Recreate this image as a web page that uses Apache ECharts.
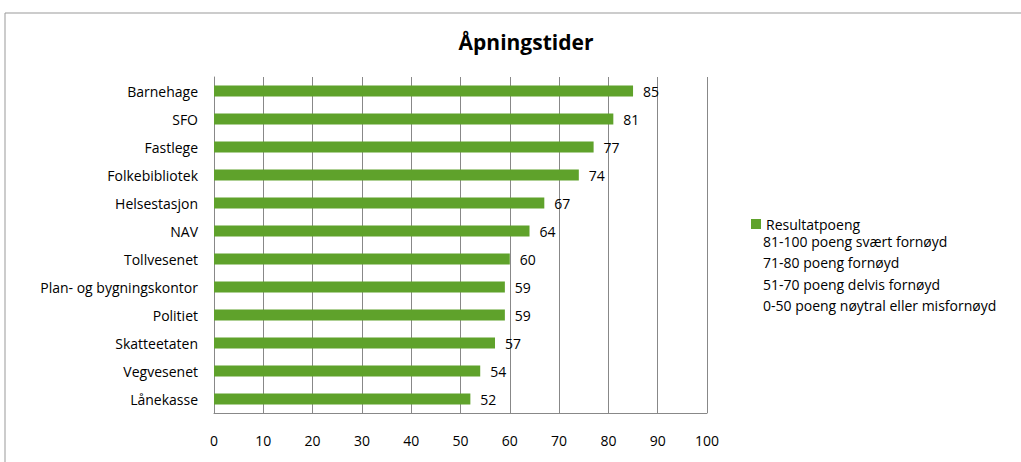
<!DOCTYPE html>
<html>
<head>
<meta charset="utf-8">
<script src="https://cdn.jsdelivr.net/npm/echarts@6/dist/echarts.min.js"></script>
<style>
  html, body {margin: 0; padding: 0; background: #fff;}
  #chart {width: 1021px; height: 462px;}
</style>
</head>
<body>
<div id="chart"></div>
<script>
// categories top to bottom
const categories = [
  'Barnehage', 'SFO', 'Fastlege', 'Folkebibliotek', 'Helsestasjon', 'NAV',
  'Tollvesenet', 'Plan- og bygningskontor', 'Politiet', 'Skatteetaten',
  'Vegvesenet', 'Lånekasse'
];
const scores = [85, 81, 77, 74, 67, 64, 60, 59, 59, 57, 54, 52];
const seriesName = 'Resultatpoeng';
const legendNotes = [
  '81-100 poeng svært fornøyd',
  '71-80 poeng fornøyd',
  '51-70 poeng delvis fornøyd',
  '0-50 poeng nøytral eller misfornøyd'
];

const font = '"Open Sans", "Liberation Sans", sans-serif';
const chart = echarts.init(document.getElementById('chart'), null, {renderer: 'svg'});

chart.setOption({
  animation: false,
  title: {
    text: 'Åpningstider',
    left: 521,
    top: 26,
    textAlign: 'center',
    textStyle: {fontFamily: font, fontSize: 21, fontWeight: 'bold', color: '#000'}
  },
  legend: {
    left: 746,
    top: 212,
    itemWidth: 10,
    itemHeight: 10,
    itemGap: 6,
    icon: 'rect',
    textStyle: {fontFamily: font, fontSize: 14, color: '#000'},
    data: [seriesName]
  },
  grid: {left: 214, right: 314, top: 77, bottom: 49},
  xAxis: {
    type: 'value',
    min: 0,
    max: 100,
    interval: 10,
    axisLine: {show: true, lineStyle: {color: '#888'}},
    axisTick: {show: false},
    axisLabel: {fontFamily: font, fontSize: 14, color: '#000', margin: 20},
    splitLine: {show: true, lineStyle: {color: '#888'}}
  },
  yAxis: {
    type: 'category',
    inverse: true,
    data: categories,
    axisLine: {show: true, lineStyle: {color: '#888'}},
    axisTick: {show: false},
    axisLabel: {fontFamily: font, fontSize: 14, color: '#000', margin: 16}
  },
  series: [{
    name: seriesName,
    type: 'bar',
    data: scores,
    barWidth: 11,
    itemStyle: {color: '#5fa22b'},
    label: {
      show: true,
      position: 'right',
      distance: 10,
      fontFamily: font,
      fontSize: 14,
      color: '#000'
    }
  }],
  graphic: [
    {
      type: 'rect',
      shape: {x: 5, y: 13, width: 1100, height: 500},
      style: {fill: 'none', stroke: '#999', lineWidth: 1},
      silent: true
    },
    ...legendNotes.map((txt, i) => ({
      type: 'text',
      left: 763,
      top: 234 + i * 21.5,
      style: {text: txt, font: '14px ' + font, fill: '#000'}
    }))
  ]
});
</script>
</body>
</html>
